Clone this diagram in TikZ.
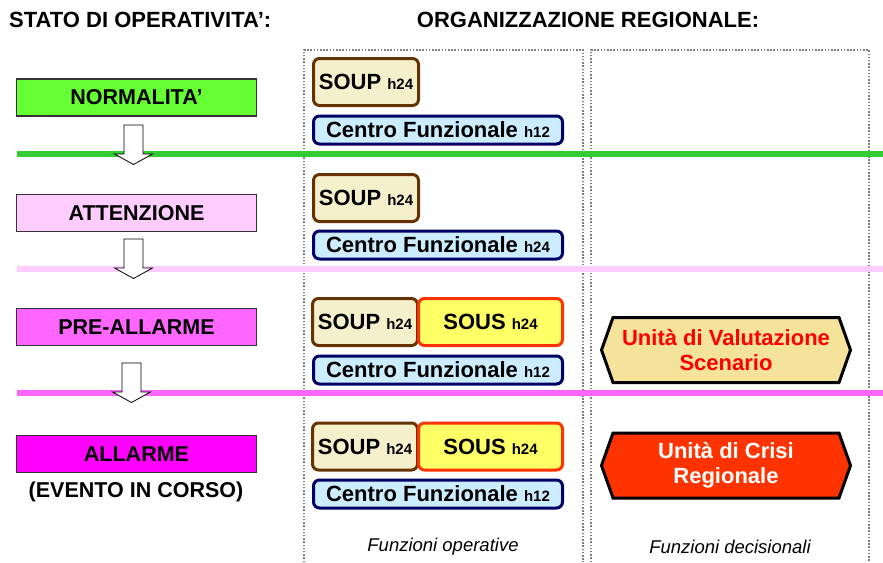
\documentclass[tikz,border=0pt]{standalone}
\usepackage{fontspec}
\setmainfont{Liberation Sans}
\usetikzlibrary{positioning,shapes.symbols}

\definecolor{verde}{HTML}{66FF33}
\definecolor{verdelinea}{HTML}{33CC33}
\definecolor{rosachiaro}{HTML}{FFCCFF}
\definecolor{rosa}{HTML}{FF66FF}
\definecolor{magenta}{HTML}{FF00FF}
\definecolor{soupfill}{HTML}{F5F0CC}
\definecolor{soupbordo}{HTML}{663300}
\definecolor{cffill}{HTML}{CCECFF}
\definecolor{cfbordo}{HTML}{000066}
\definecolor{sousfill}{HTML}{FFFF66}
\definecolor{sousbordo}{HTML}{FF3300}
\definecolor{uvsfill}{HTML}{F5E29B}
\definecolor{ucrfill}{HTML}{FF3300}

\newcommand\turno[1]{{\fontsize{15}{15}\selectfont #1}}

\tikzset{
  titolo/.style={font=\bfseries\fontsize{22}{24}\selectfont, inner sep=0pt},
  stato/.style={draw=black!80, line width=1.2pt, minimum width=240pt, minimum height=37pt,
    inner sep=0pt, font=\bfseries\fontsize{21.5}{24}\selectfont},
  ufficio/.style={rounded corners=6pt, line width=3pt, inner sep=0pt,
    font=\bfseries\fontsize{22}{24}\selectfont},
  soup/.style={ufficio, draw=soupbordo, fill=soupfill, minimum width=105pt, minimum height=47pt},
  sous/.style={ufficio, draw=sousbordo, fill=sousfill, minimum width=144pt, minimum height=47pt},
  centro/.style={ufficio, draw=cfbordo, fill=cffill, minimum width=249pt, minimum height=28pt},
  unita/.style={signal, signal to=west and east, signal pointer angle=141, draw=black,
    line width=3pt, minimum width=249pt, minimum height=65pt, inner sep=0pt, align=center,
    font=\bfseries\fontsize{22}{25}\selectfont},
  funzioni/.style={font=\itshape\fontsize{18.5}{20}\selectfont, inner sep=0pt},
  colonna/.style={gray, line width=1.5pt, dash pattern=on 1.5pt off 1.7pt},
  soglia/.style={line width=6pt},
  freccia/.style={draw=black, fill=white, line width=0.8pt}
}

\begin{document}
\begin{tikzpicture}[x=1pt,y=-1pt]
\useasboundingbox (0,0) rectangle (883,562);
% titoli
\node[titolo, anchor=west] (tstato) at (9,20) {STATO DI OPERATIVITA’:};
\node[titolo] (torg) at (588,20) {ORGANIZZAZIONE REGIONALE:};
% colonne
\draw[colonna] (304,562) |- (583,50) -- (583,562);
\draw[colonna] (591,562) |- (869,50) -- (869,562);
% soglie
\draw[soglia, verdelinea] (17,154) -- (883,154);
\draw[soglia, rosachiaro] (17,269) -- (883,269);
\draw[soglia, rosa] (17,393) -- (883,393);
% stati
\node[stato, fill=verde] (norm) at (136.5,97.5) {NORMALITA’};
\node[stato, fill=rosachiaro] (att) at (136.5,213) {ATTENZIONE};
\node[stato, fill=rosa] (pre) at (136.5,327) {PRE-ALLARME};
\node[stato, fill=magenta] (all) at (136.5,454) {ALLARME};
\node[font=\bfseries\fontsize{21.5}{24}\selectfont, inner sep=0pt] (evento) at (136,492) {(EVENTO IN CORSO)};
\foreach \xa/\ya in {124/125,124/239,122/363}{
  \draw[freccia] (\xa,\ya) -- ++(19,0) -- ++(0,29) -- ++(9.5,0) -- ++(-19,10.5)
    -- ++(-19,-10.5) -- ++(9.5,0) -- cycle;
}
% funzioni operative
\node[soup] (soupA) at (366,82) {SOUP \turno{h24}};
\node[centro] (cfA) at (438,130) {Centro Funzionale \turno{h12}};
\node[soup] (soupB) at (366,198) {SOUP \turno{h24}};
\node[centro] (cfB) at (438,245) {Centro Funzionale \turno{h24}};
\node[soup] (soupC) at (365,322) {SOUP \turno{h24}};
\node[sous] (sousC) at (490.5,322) {SOUS \turno{h24}};
\node[centro] (cfC) at (438,370) {Centro Funzionale \turno{h12}};
\node[soup] (soupD) at (365,446.5) {SOUP \turno{h24}};
\node[sous] (sousD) at (490.5,446.5) {SOUS \turno{h24}};
\node[centro] (cfD) at (438,494) {Centro Funzionale \turno{h12}};
% funzioni decisionali
\node[unita, fill=uvsfill, text=red] (uvs) at (726,350) {Unità di Valutazione\\Scenario};
\node[unita, fill=ucrfill, text=white] (ucr) at (726,465.5) {Unità di Crisi\\Regionale};
\node[funzioni] (fop) at (443,547) {Funzioni operative};
\node[funzioni] (fdec) at (730,547) {Funzioni decisionali};
\end{tikzpicture}
\end{document}
